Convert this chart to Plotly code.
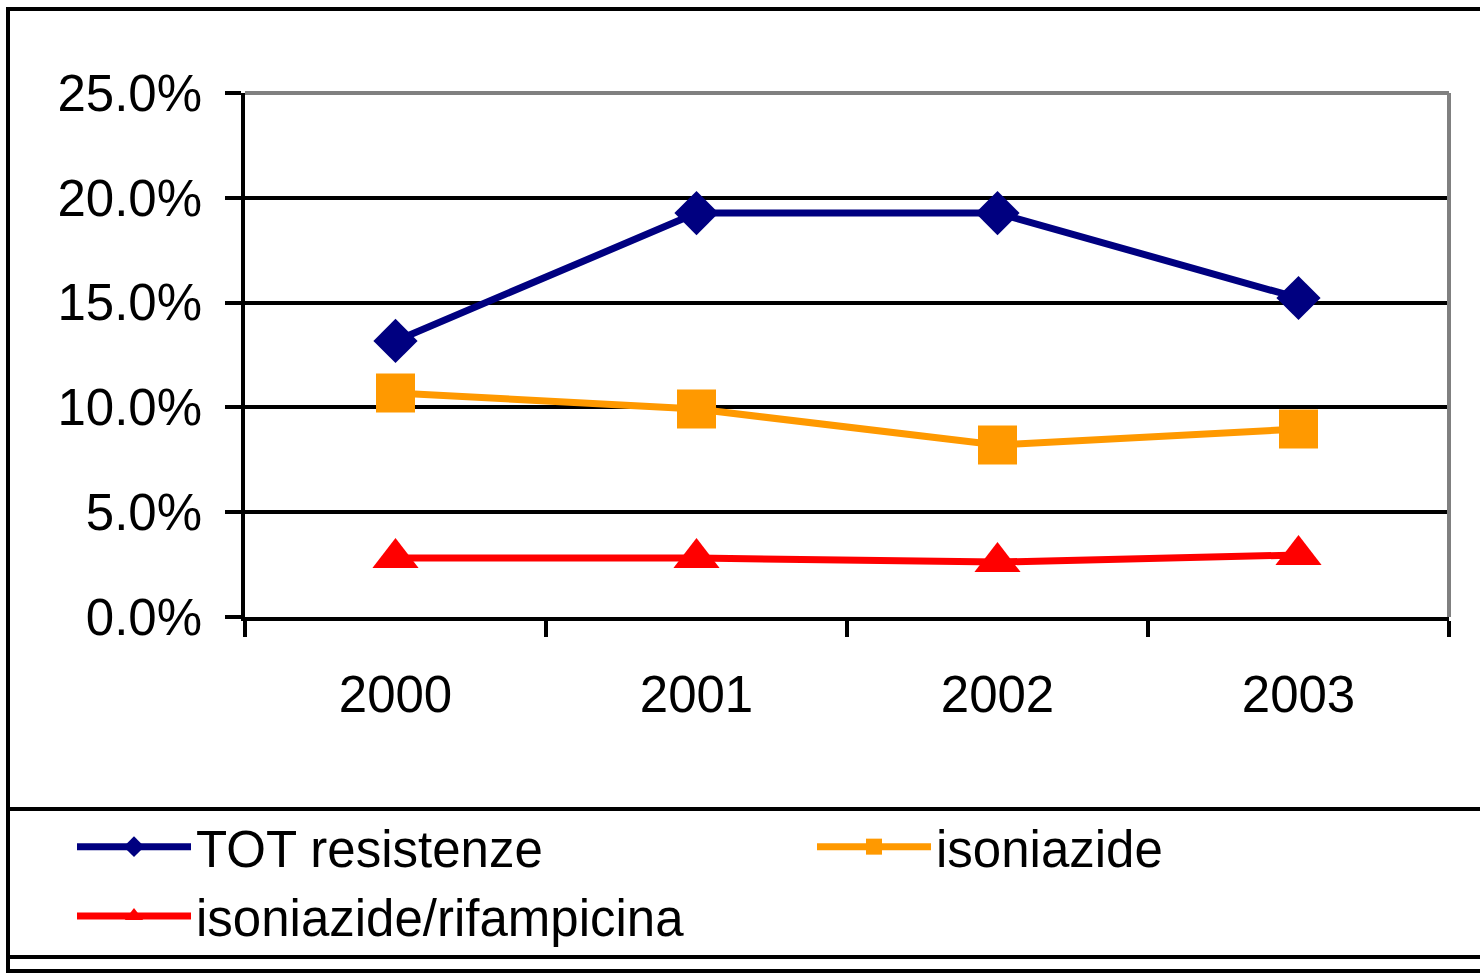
import plotly.graph_objects as go

years = ["2000", "2001", "2002", "2003"]
tot_resistenze = [0.1317, 0.1927, 0.1927, 0.1522]
isoniazide = [0.1069, 0.0992, 0.0821, 0.0897]
iso_rifampicina = [0.0281, 0.0281, 0.0262, 0.0296]
y_ticks = [0, 0.05, 0.10, 0.15, 0.20, 0.25]

W, H = 1480, 973
L, R, T, B = 245, 1449, 93, 617
pw, ph = R - L, B - T

def px(x):
    return (x - L) / pw

def py(y):
    return (B - y) / ph

fig = go.Figure()
fig.add_trace(go.Scatter(x=years, y=tot_resistenze, name="TOT resistenze", mode="lines+markers",
                         line=dict(color="#000080", width=7), legend="legend",
                         marker=dict(symbol="diamond", size=34, color="#000080")))
fig.add_trace(go.Scatter(x=years, y=isoniazide, name="isoniazide", mode="lines+markers",
                         line=dict(color="#FF9900", width=7), legend="legend2",
                         marker=dict(symbol="square", size=39, color="#FF9900")))
fig.add_trace(go.Scatter(x=years, y=iso_rifampicina, name="isoniazide/rifampicina", mode="lines+markers",
                         line=dict(color="#FF0000", width=7), legend="legend",
                         marker=dict(symbol="triangle-up", size=40, color="#FF0000")))

shapes = [
    dict(type="rect", xref="paper", yref="paper", x0=px(8), x1=px(1495), y0=py(971), y1=py(9),
         line=dict(color="black", width=4), layer="below"),
    dict(type="line", xref="paper", yref="paper", x0=px(8), x1=px(1495), y0=py(809), y1=py(809),
         line=dict(color="black", width=4)),
    dict(type="line", xref="paper", yref="paper", x0=px(8), x1=px(1495), y0=py(957), y1=py(957),
         line=dict(color="black", width=4)),
    dict(type="line", xref="paper", yref="paper", x0=0, x1=1, y0=1, y1=1,
         line=dict(color="#808080", width=4), layer="above"),
    dict(type="line", xref="paper", yref="paper", x0=1, x1=1, y0=0, y1=1,
         line=dict(color="#808080", width=4), layer="above"),
]

legend_common = dict(orientation="v", xanchor="left", yanchor="top", itemwidth=114,
                     font=dict(size=51), bgcolor="rgba(0,0,0,0)", tracegroupgap=0)

fig.update_layout(
    width=W, height=H,
    margin=dict(l=L, r=W - R, t=T, b=H - B, autoexpand=False),
    paper_bgcolor="white", plot_bgcolor="white",
    font=dict(family="Liberation Sans, Arial, sans-serif", size=51, color="black"),
    showlegend=True,
    legend=dict(x=px(72), y=py(807), **legend_common),
    legend2=dict(x=px(812), y=py(807), **legend_common),
    shapes=shapes,
)
fig.update_yaxes(range=[0, 0.25], tickvals=y_ticks, tickformat=".1%",
                 showgrid=True, gridcolor="black", gridwidth=3.5,
                 showline=True, linecolor="black", linewidth=3.5,
                 ticks="outside", ticklen=16, tickwidth=3.5, tickcolor="black",
                 ticklabelstandoff=13, zeroline=False)
fig.update_xaxes(type="category", tickson="boundaries", range=[-0.5, 3.5],
                 showgrid=False, showline=True, linecolor="black", linewidth=3.5,
                 ticks="outside", ticklen=16, tickwidth=3.5, tickcolor="black",
                 ticklabelstandoff=30)

fig.write_html("out.html", config={"displayModeBar": False},
               post_script="document.body.style.margin='0';")
